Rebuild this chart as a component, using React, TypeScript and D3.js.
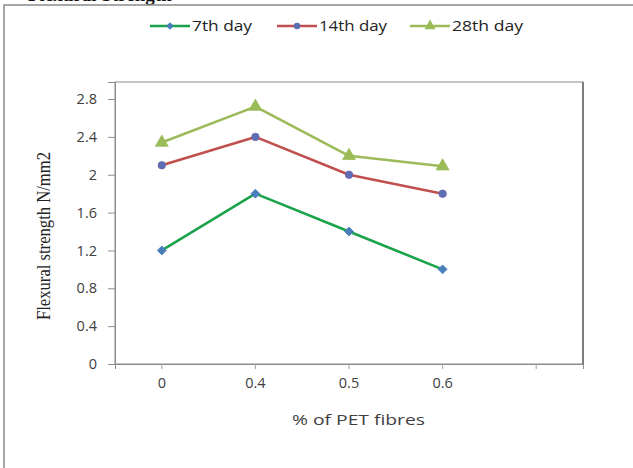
import React, { useEffect, useRef } from "react";
import * as d3 from "d3";

// data
const categories = ["0", "0.4", "0.5", "0.6", ""];
const seriesNames = ["7th day", "14th day", "28th day"];
const day7 = [1.2, 1.8, 1.4, 1.0];
const day14 = [2.1, 2.4, 2.0, 1.8];
const day28 = [2.34, 2.72, 2.2, 2.09];
const yTicks = [0, 0.4, 0.8, 1.2, 1.6, 2, 2.4, 2.8];

const lineColors = ["#1BA34B", "#C0504D", "#9BBB59"];
const markerColors = ["#4A7EBB", "#5B6FB5", "#9BBB59"];
const markerTypes = [d3.symbolSquare, d3.symbolCircle, d3.symbolTriangle];
const markerSizes = [40, 44, 72];
const markerRotate = [45, 0, 0];

const W = 633, H = 468;
const plot = { left: 115, right: 583, top: 82, bottom: 364 };

export default function App() {
  const ref = useRef<SVGSVGElement>(null);

  useEffect(() => {
    const svg = d3.select(ref.current);
    svg.selectAll("*").remove();

    const x = d3.scaleBand().domain(categories).range([plot.left, plot.right]);
    const y = d3.scaleLinear().domain([0, 2.98]).range([plot.bottom, plot.top]);
    const cx = (i: number) => x(categories[i])! + x.bandwidth() / 2;

    // heading of the page above, mostly cut off
    svg.append("text")
      .attr("x", 28).attr("y", 0.5)
      .attr("font-family", "'Liberation Serif', 'DejaVu Serif', serif")
      .attr("font-weight", "bold").attr("font-size", 19)
      .attr("fill", "#111")
      .text("Flexural Strength");

    // outer chart border
    svg.append("rect")
      .attr("x", 4).attr("y", 5).attr("width", 660).attr("height", 500)
      .attr("fill", "none").attr("stroke", "#8a8a8a").attr("stroke-width", 1.5);

    // plot area frame
    svg.append("rect")
      .attr("x", plot.left).attr("y", plot.top)
      .attr("width", plot.right - plot.left).attr("height", plot.bottom - plot.top)
      .attr("fill", "none").attr("stroke", "#8c8c8c").attr("stroke-width", 1);
    svg.append("line")
      .attr("x1", plot.right).attr("x2", plot.right)
      .attr("y1", plot.top).attr("y2", plot.bottom + 1)
      .attr("stroke", "#555").attr("stroke-width", 1.3);

    const font = "'Open Sans', 'DejaVu Sans', sans-serif";

    // y axis
    const yAxis = svg.append("g")
      .attr("transform", `translate(${plot.left},0)`)
      .call(d3.axisLeft(y).tickValues(yTicks).tickSize(7).tickPadding(11)
        .tickFormat((d) => d3.format("")(+d)));
    yAxis.select(".domain").attr("stroke", "#8c8c8c");
    yAxis.selectAll(".tick line").attr("stroke", "#8c8c8c");
    yAxis.selectAll(".tick text")
      .attr("font-family", font).attr("font-size", 14.5).attr("fill", "#404040");

    // x axis
    const xAxis = svg.append("g")
      .attr("transform", `translate(0,${plot.bottom})`)
      .call(d3.axisBottom(x).tickSize(5).tickPadding(9));
    xAxis.select(".domain").attr("stroke", "#8c8c8c");
    xAxis.selectAll(".tick line").attr("stroke", "#a0a0a0");
    xAxis.selectAll(".tick text")
      .attr("font-family", font).attr("font-size", 14.5).attr("fill", "#404040");

    // axis titles
    svg.append("text")
      .attr("transform", "translate(50,236) rotate(-90)")
      .attr("text-anchor", "middle")
      .attr("font-family", "'Liberation Serif', 'DejaVu Serif', serif")
      .attr("font-size", 19).attr("fill", "#222")
      .attr("textLength", 168).attr("lengthAdjust", "spacingAndGlyphs")
      .text("Flexural strength N/mm2");

    svg.append("text")
      .attr("x", 292).attr("y", 425)
      .attr("font-family", font).attr("font-size", 14).attr("fill", "#404040")
      .attr("textLength", 133).attr("lengthAdjust", "spacingAndGlyphs")
      .text("% of  PET fibres");

    // series
    const allSeries = [day7, day14, day28];
    const line = d3.line<number>().x((_, i) => cx(i)).y((d) => y(d));
    allSeries.forEach((vals, s) => {
      svg.append("path")
        .attr("d", line(vals)!)
        .attr("fill", "none")
        .attr("stroke", lineColors[s]).attr("stroke-width", 2.6)
        .attr("stroke-linejoin", "round");
      svg.selectAll(`.m${s}`)
        .data(vals)
        .join("path")
        .attr("class", `m${s}`)
        .attr("transform", (d, i) => `translate(${cx(i)},${y(d)}) rotate(${markerRotate[s]})`)
        .attr("d", d3.symbol().type(markerTypes[s]).size(markerSizes[s])()!)
        .attr("fill", markerColors[s])
        .attr("stroke", s === 1 ? "#7060a8" : markerColors[s])
        .attr("stroke-width", 0.8);
    });

    // legend
    const legendX = [150, 277, 410];
    const legendW = [60, 68, 71];
    const ly = 26;
    seriesNames.forEach((name, s) => {
      const g = svg.append("g").attr("transform", `translate(${legendX[s]},${ly})`);
      g.append("line")
        .attr("x1", 0).attr("x2", 40).attr("y1", 0).attr("y2", 0)
        .attr("stroke", lineColors[s]).attr("stroke-width", 2.6);
      g.append("path")
        .attr("transform", `translate(20,0) rotate(${markerRotate[s]})`)
        .attr("d", d3.symbol().type(markerTypes[s]).size(markerSizes[s] * 0.75)()!)
        .attr("fill", markerColors[s]);
      g.append("text")
        .attr("x", 42).attr("y", 5)
        .attr("font-family", font).attr("font-size", 14).attr("fill", "#222")
        .attr("textLength", legendW[s]).attr("lengthAdjust", "spacingAndGlyphs")
        .text(name);
    });
  }, []);

  return (
    <svg
      ref={ref}
      width={W}
      height={H}
      style={{ position: "absolute", left: 0, top: 0, background: "#fff", display: "block" }}
    />
  );
}
